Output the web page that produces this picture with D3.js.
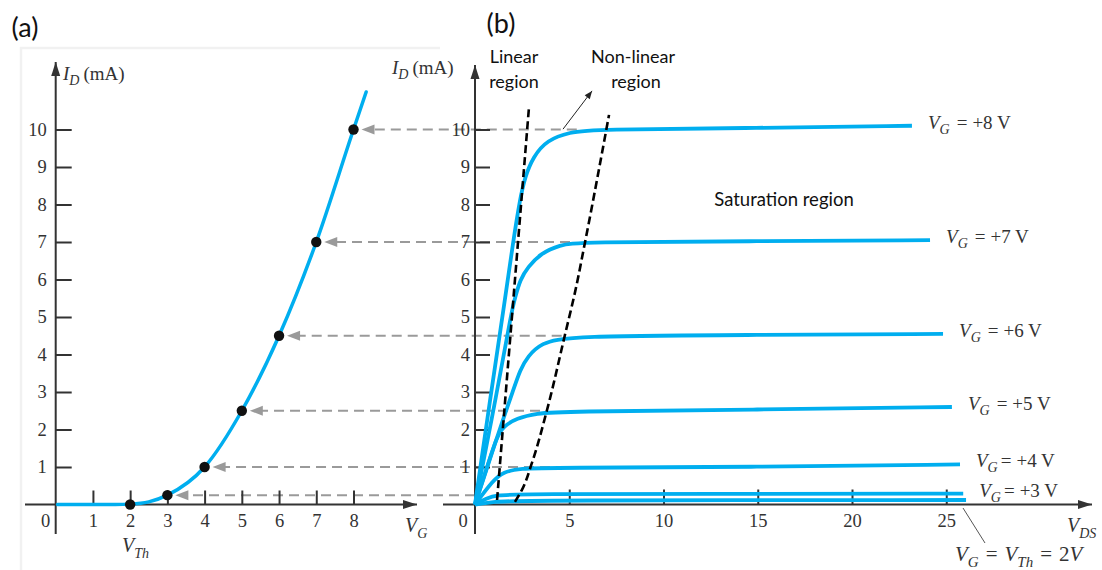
<!DOCTYPE html>
<html>
<head>
<meta charset="utf-8">
<script src="https://cdn.jsdelivr.net/npm/d3@7"></script>
<style>
  html, body { margin: 0; padding: 0; background: #fff; }
  svg { display: block; }
  .serif { font-family: "Liberation Serif", "Times New Roman", serif; fill: #333; }
  .sans { font-family: Lato, "Open Sans", sans-serif; fill: #111; }
</style>
</head>
<body>
<script>
// ---------- transfer characteristic (panel a) ----------
const gateTicks = [1, 2, 3, 4, 5, 6, 7, 8];
const currentTicks = [1, 2, 3, 4, 5, 6, 7, 8, 9, 10];
const transferVG = [0.05, 1, 1.6, 2, 2.5, 3, 4, 5, 6, 7, 8, 8.34];
const transferID = [0, 0, 0, 0.01, 0.07, 0.25, 1, 2.5, 4.5, 7, 10, 11.0];

// marked operating points (V_G, I_D) and the V_DS where each output curve saturates
const markVG = [3, 4, 5, 6, 7, 8];
const markID = [0.25, 1, 2.5, 4.5, 7, 10];
const markVDSsat = [0, 3.98, 3.45, 4.6, 5.04, 5.4];

// ---------- output characteristics (panel b) ----------
const drainTicks = [5, 10, 15, 20, 25];
const curveVG8 = [[0,0],[0.8,2.8],[1.59,5.46],[2.02,7.0],[2.39,8.15],[2.65,8.73],[3.08,9.27],[3.82,9.72],[5.04,9.93],[6.26,10.0],[15,10.04],[23.18,10.1]];
const curveVG7 = [[0,0],[1.17,3.0],[1.96,5.2],[2.12,5.5],[2.4,6.0],[2.8,6.33],[3.5,6.7],[4.5,6.92],[5.5,7.0],[15,7.02],[24.14,7.05]];
const curveVG6 = [[0,0],[1.5,2.3],[2.0,3.0],[2.4,3.6],[2.8,3.95],[3.5,4.3],[4.9,4.5],[15,4.52],[24.83,4.55]];
const curveVG5 = [[0,0],[0.6,0.94],[1.15,1.8],[1.5,2.08],[2.2,2.3],[3.3,2.43],[4.5,2.48],[15,2.53],[25.3,2.6]];
const curveVG4 = [[0,0],[0.97,0.65],[1.5,0.87],[2.4,0.96],[4,0.98],[15,1.0],[25.73,1.07]];
const curveVG3 = [[0,0],[0.6,0.17],[1.2,0.25],[2.2,0.28],[15,0.28],[25.9,0.29]];
const curveVG2 = [[0,0],[1.0,0.08],[2.5,0.11],[26.05,0.12]];
const curveGate = ["+8", "+7", "+6", "+5", "+4", "+3"];

// region boundaries
const linearEdge = [[1.17,0.12],[2.86,10.57]];
const pinchOffEdge = [[2.12,0.07],[2.49,0.39],[3.02,1.11],[3.82,2.52],[4.77,4.52],[5.31,5.67],[5.84,7.0],[7.11,10.39]];
const regionPointer = [[4.67,10.01],[6.21,11.03]];

// ---------- layout ----------
const W = 1102, H = 570;
const blue = "#00AEEF";
const axisColor = "#333";
const guideGray = "#9a9a9a";

const svg = d3.select("body").append("svg").attr("width", W).attr("height", H);

const y = d3.scaleLinear().domain([0, 10]).range([504.5, 129.5]);
const xA = d3.scaleLinear().domain([0, 8]).range([55.7, 353.5]);
const xB = d3.scaleLinear().domain([0, 25]).range([475, 946.25]);

// faint frame of panel (a)
svg.append("path").attr("d", "M21,570 V48 H440")
  .attr("fill", "none").attr("stroke", "#f1f1f1").attr("stroke-width", 2.5);

// ---------- gray projection guides ----------
const guides = svg.append("g");
markVG.forEach((vg, i) => {
  const yy = y(markID[i]);
  const tip = xA(vg) + 8;
  guides.append("line")
    .attr("x1", xB(markVDSsat[i])).attr("x2", tip + 12)
    .attr("y1", yy).attr("y2", yy)
    .attr("stroke", guideGray).attr("stroke-width", 2)
    .attr("stroke-dasharray", "10,6");
  guides.append("path")
    .attr("d", `M${tip},${yy} L${tip + 13},${yy - 5} L${tip + 13},${yy + 5} Z`)
    .attr("fill", guideGray);
});

// ---------- axes ----------
function arrowAxis(g, x1, y1, x2, y2) {
  g.append("line").attr("x1", x1).attr("y1", y1).attr("x2", x2).attr("y2", y2)
    .attr("stroke", axisColor).attr("stroke-width", 2);
  const ang = Math.atan2(y2 - y1, x2 - x1);
  const L = 14, hw = 4.5;
  const bx = x2 - L * Math.cos(ang), by = y2 - L * Math.sin(ang);
  const px = -Math.sin(ang) * hw, py = Math.cos(ang) * hw;
  g.append("path")
    .attr("d", `M${x2},${y2} L${bx + px},${by + py} L${bx - px},${by - py} Z`)
    .attr("fill", axisColor);
}

function styleAxis(g) {
  g.select(".domain").remove();
  g.selectAll(".tick line").attr("stroke", axisColor).attr("stroke-width", 2);
  g.selectAll(".tick text")
    .attr("class", "serif").attr("font-size", 18.5).attr("fill", "#333");
}

const axes = svg.append("g");
// panel (a)
arrowAxis(axes, 25, y(0), 417, y(0));
arrowAxis(axes, xA(0), 534, xA(0), 62);
axes.append("g").attr("transform", `translate(${xA(0)},0)`)
  .call(d3.axisLeft(y).tickValues(currentTicks).tickSizeInner(-16).tickSizeOuter(0).tickPadding(9))
  .call(styleAxis);
axes.append("g").attr("transform", `translate(0,${y(0)})`)
  .call(d3.axisBottom(xA).tickValues(gateTicks).tickSizeInner(-14).tickSizeOuter(0).tickPadding(9))
  .call(styleAxis);
// panel (b)
arrowAxis(axes, 443, y(0), 1092, y(0));
arrowAxis(axes, xB(0), 534, xB(0), 65);
axes.append("g").attr("transform", `translate(${xB(0)},0)`)
  .call(d3.axisLeft(y).tickValues(currentTicks).tickSizeInner(-15).tickSizeOuter(0).tickPadding(5))
  .call(styleAxis);
axes.append("g").attr("transform", `translate(0,${y(0)})`)
  .call(d3.axisBottom(xB).tickValues(drainTicks).tickSizeInner(-15).tickSizeOuter(0).tickPadding(9))
  .call(styleAxis);

// origin labels
svg.append("text").attr("class", "serif").attr("font-size", 18.5)
  .attr("x", xA(0) - 10).attr("y", 527).attr("text-anchor", "middle").text("0");
svg.append("text").attr("class", "serif").attr("font-size", 18.5)
  .attr("x", xB(0) - 12).attr("y", 527).attr("text-anchor", "middle").text("0");

// ---------- math-style labels ----------
function mathLabel(x, yy, size, parts) {
  const t = svg.append("text").attr("class", "serif").attr("font-size", size)
    .attr("x", x).attr("y", yy).attr("fill", "#222");
  let shift = 0;
  parts.forEach(p => {
    const s = t.append("tspan").text(p.t);
    if (p.i) s.attr("font-style", "italic");
    const target = p.sub ? Math.round(size * 0.28) : 0;
    if (p.sub) s.attr("font-size", Math.round(size * 0.72));
    s.attr("dy", target - shift);
    shift = target;
    if (p.dx) s.attr("dx", p.dx);
  });
  return t;
}

mathLabel(63, 80, 19, [{t: "I", i: true}, {t: "D", i: true, sub: true}, {t: "(mA)", dx: 4}]);
mathLabel(392, 74, 19, [{t: "I", i: true}, {t: "D", i: true, sub: true}, {t: "(mA)", dx: 4}]);
mathLabel(405, 532, 20, [{t: "V", i: true}, {t: "G", i: true, sub: true}]);
mathLabel(122, 552, 20, [{t: "V", i: true}, {t: "Th", i: true, sub: true}]);
mathLabel(1067, 532, 20, [{t: "V", i: true}, {t: "DS", i: true, sub: true}]);
mathLabel(955, 561, 21, [
  {t: "V", i: true}, {t: "G", i: true, sub: true},
  {t: "=", dx: 7}, {t: "V", i: true, dx: 7}, {t: "Th", i: true, sub: true},
  {t: "=", dx: 7}, {t: "2", dx: 7}, {t: "V", i: true}
]);

// ---------- panel (a) curve and points ----------
const lineA = d3.line().x(d => xA(d[0])).y(d => y(d[1])).curve(d3.curveMonotoneX);
svg.append("path")
  .datum(transferVG.map((v, i) => [v, transferID[i]]))
  .attr("d", lineA).attr("fill", "none")
  .attr("stroke", blue).attr("stroke-width", 3.5).attr("stroke-linecap", "round");

svg.append("g").selectAll("circle")
  .data([[2, 0]].concat(markVG.map((v, i) => [v, markID[i]])))
  .join("circle")
  .attr("cx", d => xA(d[0])).attr("cy", d => y(d[1])).attr("r", 5.2)
  .attr("fill", "#111");

// ---------- panel (b) curves ----------
const lineB = d3.line().x(d => xB(d[0])).y(d => y(d[1])).curve(d3.curveBasis);
const outCurves = [curveVG8, curveVG7, curveVG6, curveVG5, curveVG4, curveVG3, curveVG2];
svg.append("g").selectAll("path")
  .data(outCurves).join("path")
  .attr("d", lineB).attr("fill", "none")
  .attr("stroke", blue).attr("stroke-width", 3.8).attr("stroke-linejoin", "round");

// region boundaries
const edgeLine = d3.line().x(d => xB(d[0])).y(d => y(d[1])).curve(d3.curveMonotoneY);
[linearEdge, pinchOffEdge].forEach(pts => {
  svg.append("path").datum(pts).attr("d", edgeLine)
    .attr("fill", "none").attr("stroke", "#000")
    .attr("stroke-width", 2.6).attr("stroke-dasharray", "8,4");
});

// pointer to the non-linear label
{
  const [p0, p1] = regionPointer;
  const x1 = xB(p0[0]), y1 = y(p0[1]), x2 = xB(p1[0]), y2 = y(p1[1]);
  svg.append("line").attr("x1", x1).attr("y1", y1).attr("x2", x2).attr("y2", y2)
    .attr("stroke", "#222").attr("stroke-width", 1);
  const ang = Math.atan2(y2 - y1, x2 - x1), L = 8, hw = 3.2;
  const bx = x2 - L * Math.cos(ang), by = y2 - L * Math.sin(ang);
  const px = -Math.sin(ang) * hw, py = Math.cos(ang) * hw;
  svg.append("path").attr("d", `M${x2},${y2} L${bx + px},${by + py} L${bx - px},${by - py} Z`)
    .attr("fill", "#222");
}

// curve labels, placed just past each curve's end
outCurves.slice(0, 6).forEach((c, i) => {
  const end = c[c.length - 1];
  const gap = i < 4 ? 7 : 3;
  mathLabel(xB(end[0]) + 16, y(end[1]) + 3, 19, [
    {t: "V", i: true}, {t: "G", i: true, sub: true},
    {t: "=", dx: gap}, {t: curveGate[i] + " V", dx: 5}
  ]);
});

// leader for the threshold curve label
svg.append("line").attr("x1", 963).attr("y1", 508).attr("x2", 985).attr("y2", 543)
  .attr("stroke", "#555").attr("stroke-width", 1);

// ---------- region captions and panel letters ----------
function caption(x, yy, size, txt, anchor) {
  svg.append("text").attr("class", "sans").attr("font-size", size)
    .attr("x", x).attr("y", yy).attr("text-anchor", anchor || "middle").text(txt);
}
caption(514, 63, 18, "Linear");
caption(514, 88, 18, "region");
caption(633, 63, 18, "Non-linear");
caption(636, 88, 18, "region");
caption(784, 206, 18.5, "Saturation region");
caption(25, 37, 27, "(a)");
caption(501, 33, 27, "(b)");
</script>
</body>
</html>
